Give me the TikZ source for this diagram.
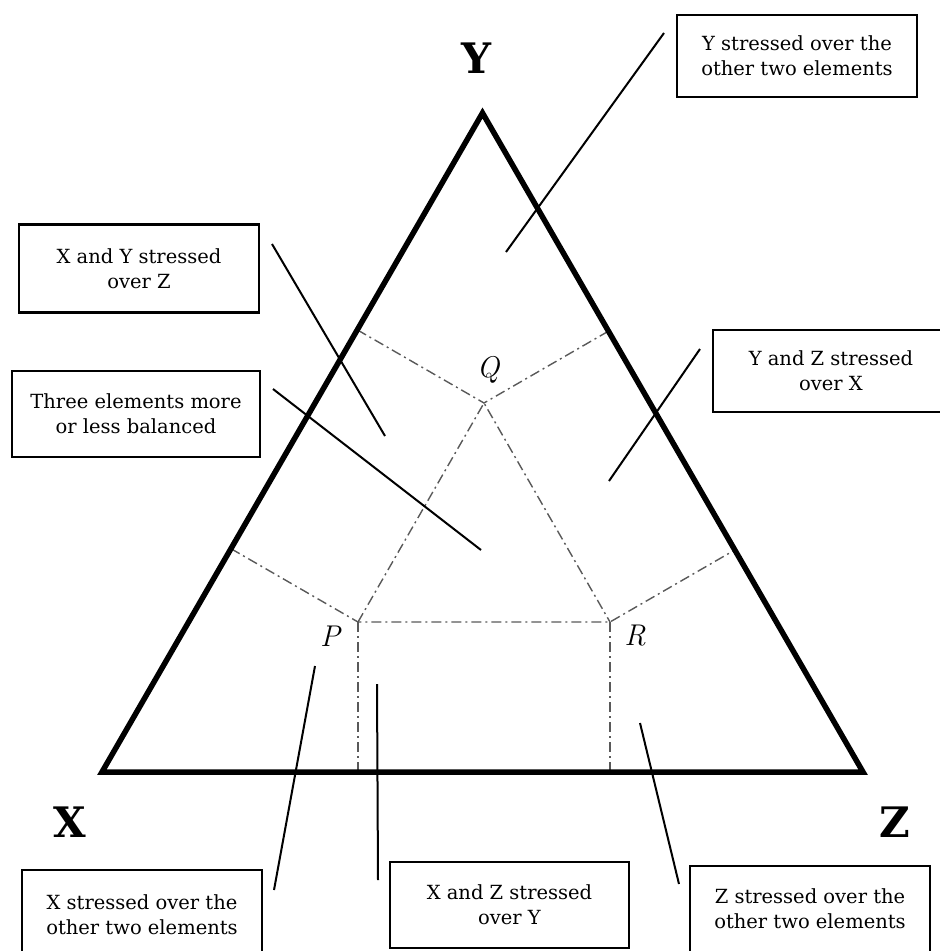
\documentclass[tikz,border=0pt]{standalone}
\usepackage{fontspec}
\setmainfont{DejaVu Serif}
\newfontfamily\lmfont{Latin Modern Roman}
\usetikzlibrary{calc}
\begin{document}
\begin{tikzpicture}[x=1pt,y=-1pt,
  tri/.style={line width=5.5pt,line join=miter},
  zone/.style={line width=1.4pt,draw=black!65,dash pattern=on 10pt off 4pt on 2pt off 4pt},
  leader/.style={line width=2pt},
  txtbox/.style={draw,line width=2.5pt,inner sep=0pt,align=center,font=\fontsize{19.5}{25}\selectfont},
  vlab/.style={font=\fontsize{42}{42}\selectfont\bfseries},
  plab/.style={font=\fontsize{30}{30}\selectfont\lmfont\itshape}]
\useasboundingbox (0,0) rectangle (940,951);
\clip (0,0) rectangle (940,951);
% vertices
\coordinate (X) at (102,772);
\coordinate (Z) at (863,772);
\coordinate (Y) at (482.5,113);
\coordinate (P) at (358,622);
\coordinate (R) at (610,622);
\coordinate (Q) at (484,403);
% zone boundaries
\coordinate (QL) at ($(X)!(Q)!(Y)$);
\coordinate (QR) at ($(Z)!(Q)!(Y)$);
\coordinate (PL) at ($(X)!(P)!(Y)$);
\coordinate (RR) at ($(Z)!(R)!(Y)$);
\coordinate (PB) at ($(X)!(P)!(Z)$);
\coordinate (RB) at ($(X)!(R)!(Z)$);
\draw[zone] (QL) -- (Q) -- (QR);
\draw[zone] (P) -- (Q) -- (R);
\draw[zone] (PL) -- (P) -- (R) -- (RR);
\draw[zone] (P) -- (PB);
\draw[zone] (R) -- (RB);
% triangle
\draw[tri] (X) -- (Y) -- (Z) -- cycle;
% vertex labels
\node[vlab] (lY) at (476,58) {Y};
\node[vlab] (lX) at (70,822) {X};
\node[vlab] (lZ) at (895,822) {Z};
\node[plab] (lQ) at (488,370) {Q};
\node[plab] (lP) at (330,636) {P};
\node[plab] (lR) at (635,636) {R};
% boxes
\node[txtbox,minimum width=240pt,minimum height=82pt] (b1) at (797,56) {Y stressed over the\\other two elements};
\node[txtbox,minimum width=240pt,minimum height=88pt] (b2) at (139,268.5) {X and Y stressed\\over Z};
\node[txtbox,minimum width=248pt,minimum height=86pt] (b3) at (136,414) {Three elements more\\or less balanced};
\node[txtbox,minimum width=236pt,minimum height=82pt] (b4) at (831,371) {Y and Z stressed\\over X};
\node[txtbox,minimum width=240pt,minimum height=90pt] (b5) at (142,915) {X stressed over the\\other two elements};
\node[txtbox,minimum width=239pt,minimum height=86pt] (b6) at (509.5,905) {X and Z stressed\\over Y};
\node[txtbox,minimum width=240pt,minimum height=86pt] (b7) at (810,909) {Z stressed over the\\other two elements};
% leader lines
\coordinate (a1) at (664,33); \coordinate (e1) at (506,252);
\coordinate (a2) at (272,244); \coordinate (e2) at (385,436);
\coordinate (a3) at (273,389); \coordinate (e3) at (481,550);
\coordinate (a4) at (700,349); \coordinate (e4) at (609,481);
\coordinate (a5) at (274,890); \coordinate (e5) at (315,666);
\coordinate (a6) at (378,880); \coordinate (e6) at (377,684);
\coordinate (a7) at (679,884); \coordinate (e7) at (640,723);
\draw[leader] (a1) -- (e1);
\draw[leader] (a2) -- (e2);
\draw[leader] (a3) -- (e3);
\draw[leader] (a4) -- (e4);
\draw[leader] (a5) -- (e5);
\draw[leader] (a6) -- (e6);
\draw[leader] (a7) -- (e7);
\end{tikzpicture}
\end{document}
